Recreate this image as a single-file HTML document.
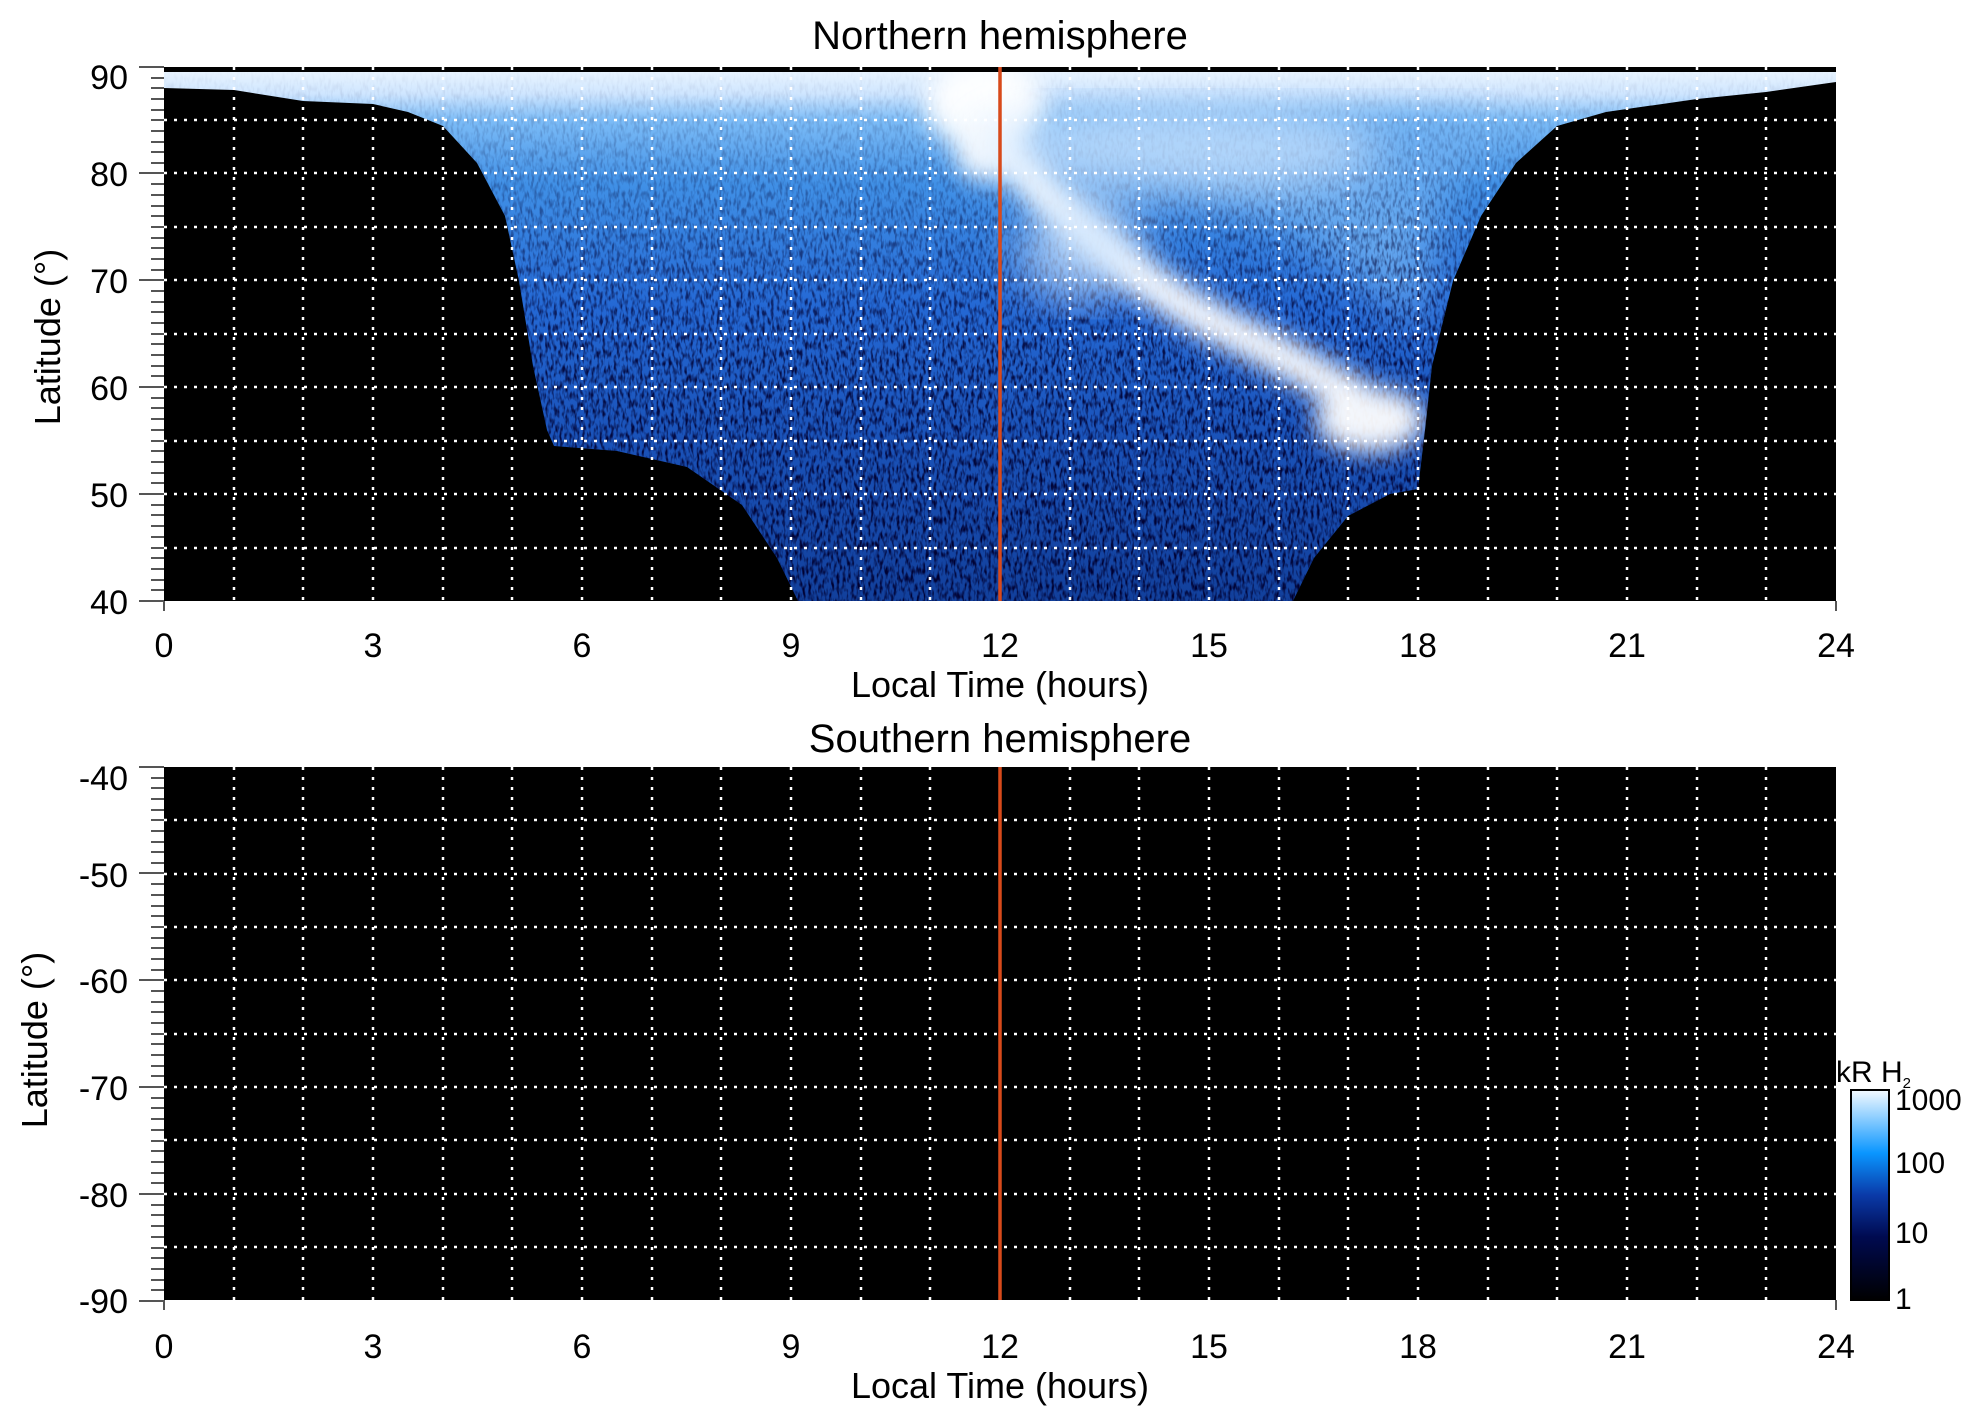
<!DOCTYPE html>
<html><head><meta charset="utf-8"><style>
html,body{margin:0;padding:0;background:#fff}
svg{display:block}
text{font-family:"Liberation Sans",sans-serif;fill:#000}
</style></head><body>
<svg width="1983" height="1423" viewBox="0 0 1983 1423" xmlns="http://www.w3.org/2000/svg">
<defs>
<linearGradient id="bg" x1="0" y1="67" x2="0" y2="601" gradientUnits="userSpaceOnUse">
<stop offset="0" stop-color="#eef7ff"/>
<stop offset="0.05" stop-color="#cfe6ff"/>
<stop offset="0.1" stop-color="#7cbcf7"/>
<stop offset="0.22" stop-color="#4090e6"/>
<stop offset="0.45" stop-color="#2468d4"/>
<stop offset="0.7" stop-color="#1a52b8"/>
<stop offset="1" stop-color="#12409c"/>
</linearGradient>
<linearGradient id="nm" x1="0" y1="67" x2="0" y2="601" gradientUnits="userSpaceOnUse">
<stop offset="0" stop-color="#000"/>
<stop offset="0.2" stop-color="#444"/>
<stop offset="0.55" stop-color="#ddd"/>
<stop offset="1" stop-color="#fff"/>
</linearGradient>
<mask id="noiseMask"><rect x="164" y="67" width="1672" height="534" fill="url(#nm)"/></mask>
<filter id="noise" x="0" y="0" width="100%" height="100%">
<feTurbulence type="fractalNoise" baseFrequency="0.35 0.12" numOctaves="2" seed="3"/>
<feColorMatrix type="matrix" values="0 0 0 0 0  0 0 0 0 0  0 0 0 0 0.03  0 0 0 -3 1.7"/>
</filter>
<filter id="blur"><feGaussianBlur stdDeviation="12"/></filter>
<filter id="blur2"><feGaussianBlur stdDeviation="22"/></filter>
<clipPath id="aur"><path d="M164,71 L164,88 L234,90 L303,101 L373,104 L408,112 L443,126 L477,163 L505,216 L519,281 L533,366 L547,430 L554,446 L617,451 L687,467 L742,505 L777,558 L798,601 L1293,601 L1314,558 L1348,516 L1390,494 L1418,489 L1425,430 L1432,366 L1453,281 L1481,216 L1516,163 L1557,126 L1606,112 L1697,99 L1766,92 L1836,82 L1836,71 Z"/></clipPath>
<linearGradient id="cb" x1="0" y1="1300" x2="0" y2="1090" gradientUnits="userSpaceOnUse">
<stop offset="0" stop-color="#000"/>
<stop offset="0.3" stop-color="#000a50"/>
<stop offset="0.5" stop-color="#0a3aa8"/>
<stop offset="0.7" stop-color="#0a96ff"/>
<stop offset="1" stop-color="#f4faff"/>
</linearGradient>
</defs>

<!-- Top plot -->
<rect x="164" y="67" width="1672" height="534" fill="#000"/>
<g clip-path="url(#aur)">
<rect x="164" y="67" width="1672" height="534" fill="url(#bg)"/>
<g filter="url(#blur2)" fill="#6fb0f2" opacity="0.8">
<path d="M1000,110 C1150,150 1300,220 1420,330 L1440,200 L1500,120 Z"/>
</g>
<rect x="164" y="67" width="1672" height="534" filter="url(#noise)" mask="url(#noiseMask)"/>
<g filter="url(#blur)" fill="#fff" stroke="#fff" opacity="0.95">
<ellipse cx="985" cy="105" rx="60" ry="45" stroke="none"/>
<ellipse cx="985" cy="150" rx="30" ry="30" stroke="none"/>
<path d="M1000,140 C1070,230 1160,300 1250,340 C1310,370 1360,400 1410,430" fill="none" stroke-width="38"/>
<ellipse cx="1370" cy="420" rx="55" ry="32" stroke="none"/>
</g>
<g filter="url(#blur2)" fill="#cfe6ff" opacity="0.7">
<ellipse cx="1180" cy="150" rx="200" ry="45"/>
<ellipse cx="1080" cy="250" rx="60" ry="50"/>
</g>
<rect x="164" y="67" width="1672" height="5" fill="#000"/>
</g>

<g stroke="#fff" stroke-width="2.5" stroke-dasharray="3 7" fill="none">
<path d="M164,120H1836M164,173H1836M164,227H1836M164,280H1836M164,334H1836M164,387H1836M164,441H1836M164,494H1836M164,548H1836"/>
<path d="M234,67V601M303,67V601M373,67V601M443,67V601M512,67V601M582,67V601M652,67V601M721,67V601M791,67V601M861,67V601M930,67V601M1070,67V601M1139,67V601M1209,67V601M1279,67V601M1348,67V601M1418,67V601M1488,67V601M1557,67V601M1627,67V601M1697,67V601M1766,67V601"/>
</g>
<line x1="1000" y1="67" x2="1000" y2="601" stroke="#d84a1b" stroke-width="3.5"/>

<!-- Bottom plot -->
<rect x="164" y="767" width="1672" height="533" fill="#000"/>
<g stroke="#fff" stroke-width="2.5" stroke-dasharray="3 7" fill="none">
<path d="M164,820H1836M164,874H1836M164,927H1836M164,980H1836M164,1034H1836M164,1087H1836M164,1140H1836M164,1194H1836M164,1247H1836"/>
<path d="M234,767V1300M303,767V1300M373,767V1300M443,767V1300M512,767V1300M582,767V1300M652,767V1300M721,767V1300M791,767V1300M861,767V1300M930,767V1300M1070,767V1300M1139,767V1300M1209,767V1300M1279,767V1300M1348,767V1300M1418,767V1300M1488,767V1300M1557,767V1300M1627,767V1300M1697,767V1300M1766,767V1300"/>
</g>
<line x1="1000" y1="767" x2="1000" y2="1300" stroke="#d84a1b" stroke-width="3.5"/>

<!-- y ticks -->
<g stroke="#555" stroke-width="2">
<path id="yt" d="M139,67H164M151,78H164M151,88H164M151,99H164M151,110H164M151,120H164M151,131H164M151,142H164M151,152H164M151,163H164M139,173H164M151,184H164M151,195H164M151,206H164M151,216H164M151,227H164M151,238H164M151,248H164M151,259H164M151,270H164M139,280H164M151,291H164M151,302H164M151,312H164M151,323H164M151,334H164M151,344H164M151,355H164M151,366H164M151,376H164M139,387H164M151,398H164M151,408H164M151,419H164M151,430H164M151,441H164M151,451H164M151,462H164M151,473H164M151,483H164M139,494H164M151,505H164M151,515H164M151,526H164M151,537H164M151,548H164M151,558H164M151,569H164M151,580H164M151,590H164M139,601H164"/>
<use href="#yt" transform="translate(0,700)"/>
<path d="M164,601v10M1836,601v10M164,1300v10M1836,1300v10"/>
</g>

<g font-size="34" text-anchor="end">
<text x="128" y="89">90</text><text x="128" y="186">80</text><text x="128" y="293">70</text><text x="128" y="400">60</text><text x="128" y="507">50</text><text x="128" y="614">40</text>
<text x="128" y="790">-40</text><text x="128" y="887">-50</text><text x="128" y="993">-60</text><text x="128" y="1100">-70</text><text x="128" y="1207">-80</text><text x="128" y="1313">-90</text>
</g>
<g font-size="34" text-anchor="middle">
<text x="164" y="657">0</text><text x="373" y="657">3</text><text x="582" y="657">6</text><text x="791" y="657">9</text><text x="1000" y="657">12</text><text x="1209" y="657">15</text><text x="1418" y="657">18</text><text x="1627" y="657">21</text><text x="1836" y="657">24</text>
<text x="164" y="1358">0</text><text x="373" y="1358">3</text><text x="582" y="1358">6</text><text x="791" y="1358">9</text><text x="1000" y="1358">12</text><text x="1209" y="1358">15</text><text x="1418" y="1358">18</text><text x="1627" y="1358">21</text><text x="1836" y="1358">24</text>
<text x="1000" y="697" font-size="36">Local Time (hours)</text>
<text x="1000" y="1398" font-size="36">Local Time (hours)</text>
<text x="1000" y="49" font-size="40">Northern hemisphere</text>
<text x="1000" y="752" font-size="40">Southern hemisphere</text>
<text transform="translate(60,337) rotate(-90)" font-size="36">Latitude (°)</text>
<text transform="translate(47,1040) rotate(-90)" font-size="36">Latitude (°)</text>
</g>

<!-- colorbar -->
<rect x="1851" y="1090" width="38" height="210" fill="url(#cb)" stroke="#000" stroke-width="2"/>
<g font-size="30">
<text x="1836" y="1082">kR H<tspan font-size="15" dy="6">2</tspan></text>
<text x="1895" y="1110">1000</text>
<text x="1895" y="1173">100</text>
<text x="1895" y="1243">10</text>
<text x="1895" y="1309">1</text>
</g>
</svg>
</body></html>
